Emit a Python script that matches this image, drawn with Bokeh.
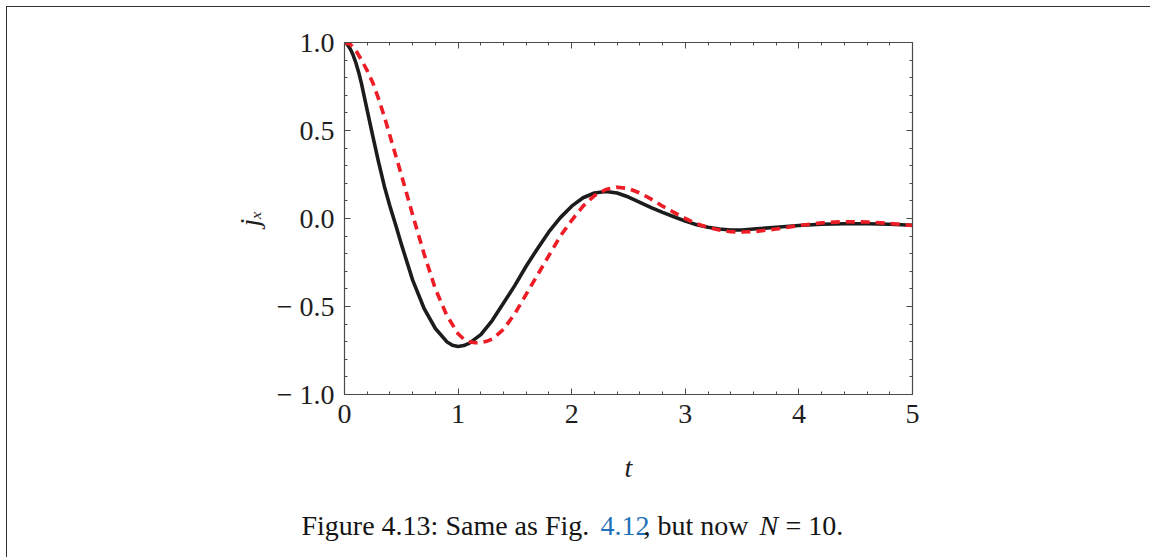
import numpy as np
from bokeh.plotting import figure
from bokeh.layouts import column, row
from bokeh.models import Range1d, LinearAxis, FixedTicker, CustomJSTickFormatter, Label
from bokeh.embed import file_html
from bokeh.resources import INLINE

# ---- data ----
t_black = [0, 0.025, 0.05, 0.075, 0.1, 0.125, 0.15, 0.2, 0.25, 0.3, 0.35, 0.4, 0.45, 0.5,
           0.6, 0.7, 0.8, 0.9, 0.95, 1.0, 1.05, 1.1, 1.2, 1.3, 1.4, 1.5, 1.6, 1.7, 1.8,
           1.9, 2.0, 2.1, 2.2, 2.3, 2.4, 2.5, 2.6, 2.7, 2.8, 2.9, 3.0, 3.1, 3.2, 3.3, 3.4,
           3.5, 3.6, 3.8, 4.0, 4.2, 4.4, 4.6, 4.8, 5.0]
j_black = [1.0, 0.99, 0.965, 0.93, 0.885, 0.83, 0.765, 0.615, 0.465, 0.32, 0.185, 0.07,
           -0.035, -0.145, -0.35, -0.51, -0.625, -0.70, -0.72, -0.727, -0.722, -0.708,
           -0.66, -0.58, -0.48, -0.38, -0.27, -0.17, -0.075, 0.005, 0.07, 0.118, 0.145,
           0.153, 0.145, 0.122, 0.092, 0.062, 0.035, 0.01, -0.015, -0.035, -0.05, -0.06,
           -0.065, -0.065, -0.06, -0.05, -0.04, -0.033, -0.03, -0.03, -0.033, -0.038]

t_red = [0, 0.05, 0.1, 0.15, 0.2, 0.25, 0.3, 0.35, 0.4, 0.45, 0.5, 0.55, 0.6, 0.7, 0.8,
         0.9, 1.0, 1.05, 1.1, 1.15, 1.2, 1.25, 1.3, 1.4, 1.5, 1.6, 1.7, 1.8, 1.9, 2.0,
         2.1, 2.2, 2.3, 2.4, 2.5, 2.6, 2.7, 2.8, 2.9, 3.0, 3.1, 3.2, 3.3, 3.4, 3.5, 3.6,
         3.8, 4.0, 4.2, 4.4, 4.6, 4.8, 5.0]
j_red = [1.0, 0.99, 0.955, 0.90, 0.84, 0.77, 0.68, 0.58, 0.47, 0.36, 0.25, 0.135, 0.02,
         -0.20, -0.40, -0.55, -0.655, -0.685, -0.70, -0.706, -0.705, -0.698, -0.685,
         -0.63, -0.54, -0.43, -0.32, -0.21, -0.10, -0.01, 0.07, 0.13, 0.165, 0.178, 0.17,
         0.145, 0.11, 0.07, 0.035, 0.0, -0.03, -0.05, -0.065, -0.075, -0.077, -0.075,
         -0.06, -0.04, -0.025, -0.018, -0.02, -0.028, -0.04]

x_ticks = [0, 1, 2, 3, 4, 5]
y_ticks = [-1.0, -0.5, 0.0, 0.5, 1.0]
x_minor = [round(0.2 * i, 2) for i in range(26)]
y_minor = [round(-1.0 + 0.1 * i, 2) for i in range(21)]

caption_parts = ["Figure 4.13: Same as Fig.", "4.12", ", but now", "N", "= 10."]

# ---- figure ----
FONT = "Liberation Serif"
AX_COLOR = "#4a4a4a"
TXT_COLOR = "#1e1e1e"
W = 1143

p = figure(width=W, height=500, output_backend="svg", toolbar_location=None,
           x_range=Range1d(0, 5), y_range=Range1d(-1, 1),
           min_border_left=337, min_border_right=238, min_border_top=35,
           min_border_bottom=113)
p.grid.visible = False
p.outline_line_color = None
p.border_fill_color = "white"

xt = FixedTicker(ticks=x_ticks, minor_ticks=x_minor)
yt = FixedTicker(ticks=y_ticks, minor_ticks=y_minor)
yfmt = CustomJSTickFormatter(code="return tick < -1e-9 ? '\u2212 ' + Math.abs(tick).toFixed(1) : Math.abs(tick).toFixed(1);")
xfmt = CustomJSTickFormatter(code="return tick.toFixed(0);")
blank = CustomJSTickFormatter(code="return '';")


def style_axis(ax):
    ax.axis_line_color = AX_COLOR
    ax.axis_line_width = 1.2
    ax.major_tick_line_color = AX_COLOR
    ax.minor_tick_line_color = AX_COLOR
    ax.major_tick_in = 6
    ax.major_tick_out = 0
    ax.minor_tick_in = 3
    ax.minor_tick_out = 0
    ax.major_label_text_font = FONT
    ax.major_label_text_font_size = "28px"
    ax.major_label_text_color = TXT_COLOR
    ax.axis_label_text_font = FONT
    ax.axis_label_text_font_style = "italic"
    ax.axis_label_text_font_size = "28px"
    ax.axis_label_text_color = TXT_COLOR


xa = p.xaxis[0]
xa.ticker = xt
xa.formatter = xfmt
style_axis(xa)
xa.major_label_standoff = 10
xa.axis_label = "t"
xa.axis_label_standoff = 26

ya = p.yaxis[0]
ya.ticker = yt
ya.formatter = yfmt
style_axis(ya)
ya.major_label_standoff = 10
ya.axis_label = "j\u2093"
ya.axis_label_standoff = 9

top = LinearAxis(ticker=xt, formatter=blank)
style_axis(top)
top.major_label_text_font_size = "1px"
p.add_layout(top, "above")
right = LinearAxis(ticker=yt, formatter=blank)
style_axis(right)
right.major_label_text_font_size = "1px"
p.add_layout(right, "right")

p.line(t_black, j_black, line_color="#1c1c1c", line_width=3.6, line_join="round")
p.line(t_red, j_red, line_color="#ee1c25", line_width=3.6, line_dash="9 6", line_join="round")

# ---- caption strip: a borderless figure whose frame spans the page width ----
c = figure(width=W, height=50, output_backend="svg", toolbar_location=None,
           x_range=Range1d(8, 8 + W), y_range=Range1d(0, 50),
           min_border_left=0, min_border_right=0, min_border_top=0,
           min_border_bottom=0)
c.axis.visible = False
c.grid.visible = False
c.outline_line_color = None
c.border_fill_color = "white"

cap_x = [302, 601, 644, 760, 786]
cap_style = ["normal", "normal", "normal", "italic", "normal"]
cap_color = ["#141414", "#1f70b8", "#141414", "#141414", "#141414"]
for txt, cx, st, col in zip(caption_parts, cap_x, cap_style, cap_color):
    c.add_layout(Label(x=cx, y=32, text=txt,
                       text_font=FONT, text_font_style=st, text_font_size="28px",
                       text_color=col, text_align="left", text_baseline="alphabetic"))

layout = column(p, row(c, spacing=0), spacing=0)
layout.styles = {"margin-top": "6px", "margin-left": "6px",
                 "border-top": "1.5px solid #333333", "border-left": "1.5px solid #333333"}

open("out.html", "w", encoding="utf-8").write(file_html(layout, INLINE))
